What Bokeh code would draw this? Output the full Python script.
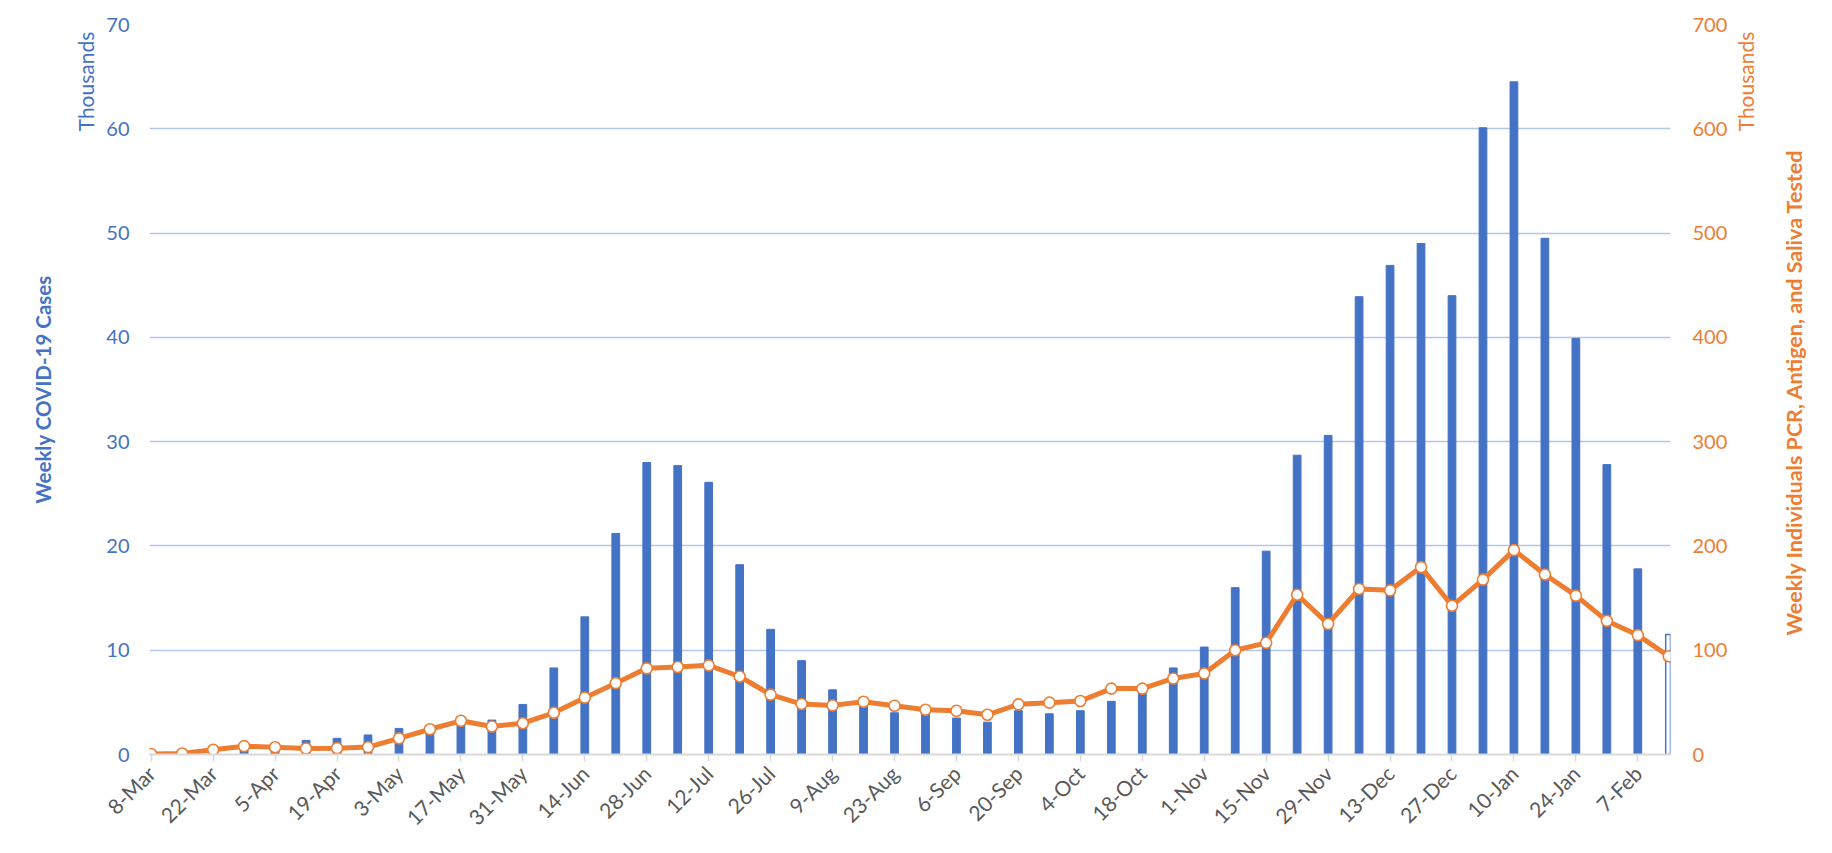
import math
from bokeh.plotting import figure
from bokeh.models import Range1d, LinearAxis, FixedTicker, ColumnDataSource, Label
from bokeh.layouts import row
from bokeh.embed import file_html
from bokeh.resources import INLINE

# ---------------- data ----------------
weeks = ["8-Mar", "15-Mar", "22-Mar", "29-Mar", "5-Apr", "12-Apr", "19-Apr", "26-Apr",
         "3-May", "10-May", "17-May", "24-May", "31-May", "7-Jun", "14-Jun", "21-Jun",
         "28-Jun", "5-Jul", "12-Jul", "19-Jul", "26-Jul", "2-Aug", "9-Aug", "16-Aug",
         "23-Aug", "30-Aug", "6-Sep", "13-Sep", "20-Sep", "27-Sep", "4-Oct", "11-Oct",
         "18-Oct", "25-Oct", "1-Nov", "8-Nov", "15-Nov", "22-Nov", "29-Nov", "6-Dec",
         "13-Dec", "20-Dec", "27-Dec", "3-Jan", "10-Jan", "17-Jan", "24-Jan", "31-Jan",
         "7-Feb", "14-Feb"]

# Weekly COVID-19 cases (thousands)
cases = [0.1, 0.1, 0.3, 0.7, 0.7, 1.35, 1.55, 1.87, 2.5, 2.3, 3.1, 3.3, 4.8, 8.3, 13.2, 21.2,
         28.0, 27.7, 26.1, 18.2, 12.0, 9.0, 6.2, 5.0, 4.0, 4.1, 3.5, 3.1, 4.2, 3.9, 4.2, 5.1,
         6.3, 8.3, 10.3, 16.0, 19.5, 28.7, 30.6, 43.9, 46.9, 49.0, 44.0, 60.1, 64.5, 49.5,
         39.9, 27.8, 17.8, 11.5]

# Weekly individuals tested (thousands)
tested = [0.5, 1.0, 4.5, 8.0, 7.0, 5.8, 6.1, 7.1, 15.5, 24.2, 32.3, 26.8, 30.0, 40.0, 54.5, 68.4,
          82.6, 83.9, 85.5, 74.8, 57.4, 48.4, 47.1, 50.6, 46.8, 42.9, 41.9, 38.1, 48.1, 49.7,
          51.3, 63.2, 63.2, 72.9, 77.7, 100.0, 107.1, 153.2, 125.2, 158.7, 157.4, 179.7, 142.6,
          167.7, 196.0, 172.6, 152.3, 128.1, 114.5, 94.2]

left_ticks = [0, 10, 20, 30, 40, 50, 60, 70]
right_ticks = [0, 100, 200, 300, 400, 500, 600, 700]

left_title = "Weekly COVID-19 Cases"
right_title = "Weekly Individuals PCR, Antigen, and Saliva  Tested"
unit_label = "Thousands"

BLUE = "#4472C4"
ORANGE = "#ED7D31"
GRID = "#B4C7E7"
FONT = "Lato"

H = 853
TOP = 24
BOTTOM = 99
SIDE_L = 100
SIDE_R = 100
MAIN_W = 1832 - SIDE_L - SIDE_R

idx = list(range(len(weeks)))
src = ColumnDataSource(dict(x=idx, cases=cases, tested=tested))
src_main = ColumnDataSource(dict(x=idx[:-1], cases=cases[:-1]))
src_last = ColumnDataSource(dict(x=idx[-1:], cases=cases[-1:]))

p = figure(width=MAIN_W, height=H, output_backend="svg", toolbar_location=None,
           x_range=Range1d(-0.055, len(weeks) - 1 + 0.055),
           y_range=Range1d(0, 70),
           min_border_left=149 - SIDE_L, min_border_right=(1832 - SIDE_R) - 1670,
           min_border_top=TOP, min_border_bottom=BOTTOM)
p.extra_y_ranges = {"tested": Range1d(0, 700)}
p.outline_line_color = None
p.background_fill_color = "white"
p.border_fill_color = "white"

# grid
p.xgrid.grid_line_color = None
p.ygrid.grid_line_color = GRID
p.ygrid.grid_line_width = 1.6
p.ygrid.ticker = FixedTicker(ticks=left_ticks)

# bars
p.vbar(x="x", top="cases", width=0.25, source=src_main, fill_color=BLUE, line_color=BLUE)
p.vbar(x="x", top="cases", width=0.2, source=src_last, fill_color="white", line_color=BLUE,
       line_width=1.5)

# line
p.line(x="x", y="tested", source=src, y_range_name="tested", line_color=ORANGE, line_width=5)
p.scatter(x="x", y="tested", source=src, y_range_name="tested", size=11, marker="circle",
          fill_color="white", line_color=ORANGE, line_width=1.6)


def style_value_axis(ax, color, standoff):
    ax.axis_line_color = None
    ax.major_tick_line_color = None
    ax.minor_tick_line_color = None
    ax.major_tick_out = 0
    ax.major_tick_in = 0
    ax.minor_tick_out = 0
    ax.minor_tick_in = 0
    ax.major_label_standoff = standoff
    ax.major_label_text_color = color
    ax.major_label_text_font = FONT
    ax.major_label_text_font_size = "20px"


ya = p.yaxis[0]
ya.ticker = FixedTicker(ticks=left_ticks)
style_value_axis(ya, BLUE, 20)

ra = LinearAxis(y_range_name="tested", ticker=FixedTicker(ticks=right_ticks))
style_value_axis(ra, ORANGE, 22)
p.add_layout(ra, "right")

# x axis
xa = p.xaxis[0]
xa.ticker = FixedTicker(ticks=idx[::2])
xa.major_label_overrides = {i: weeks[i] for i in idx[::2]}
xa.axis_line_color = "#D9D9D9"
xa.axis_line_width = 2
xa.major_tick_line_color = "#D9D9D9"
xa.major_tick_line_width = 1.5
xa.major_tick_in = 0
xa.major_tick_out = 7
xa.minor_tick_line_color = None
xa.major_label_orientation = math.pi / 4
xa.major_label_standoff = 8
xa.major_label_text_color = "#595959"
xa.major_label_text_font = FONT
xa.major_label_text_font_size = "21px"


# side panels holding the axis titles; their frames line up with the main frame,
# and their y range maps pixel rows measured from the top of the page
def side_panel(width):
    s = figure(width=width, height=H, output_backend="svg", toolbar_location=None,
               x_range=Range1d(0, width), y_range=Range1d(H - BOTTOM, TOP),
               x_axis_location=None, y_axis_location=None,
               min_border_left=0, min_border_right=0,
               min_border_top=TOP, min_border_bottom=BOTTOM)
    s.outline_line_color = None
    s.xgrid.grid_line_color = None
    s.ygrid.grid_line_color = None
    s.background_fill_color = "white"
    s.border_fill_color = "white"
    return s


def vlabel(fig, x, y, text, color, size, bold):
    fig.add_layout(Label(x=x, y=y, text=text, angle=math.pi / 2, text_align="center",
                         text_baseline="middle", text_color=color, text_font=FONT,
                         text_font_size=size,
                         text_font_style="bold" if bold else "normal"))


left = side_panel(SIDE_L)
vlabel(left, 42, 389, left_title, BLUE, "20.5px", True)
vlabel(left, 85, 81, unit_label, BLUE, "21px", False)

right = side_panel(SIDE_R)
vlabel(right, 1745 - (1832 - SIDE_R), 81, unit_label, ORANGE, "21px", False)
vlabel(right, 1793 - (1832 - SIDE_R), 389, right_title, ORANGE, "21.5px", True)

layout = row(left, p, right)
open("out.html", "w").write(file_html(layout, INLINE))
